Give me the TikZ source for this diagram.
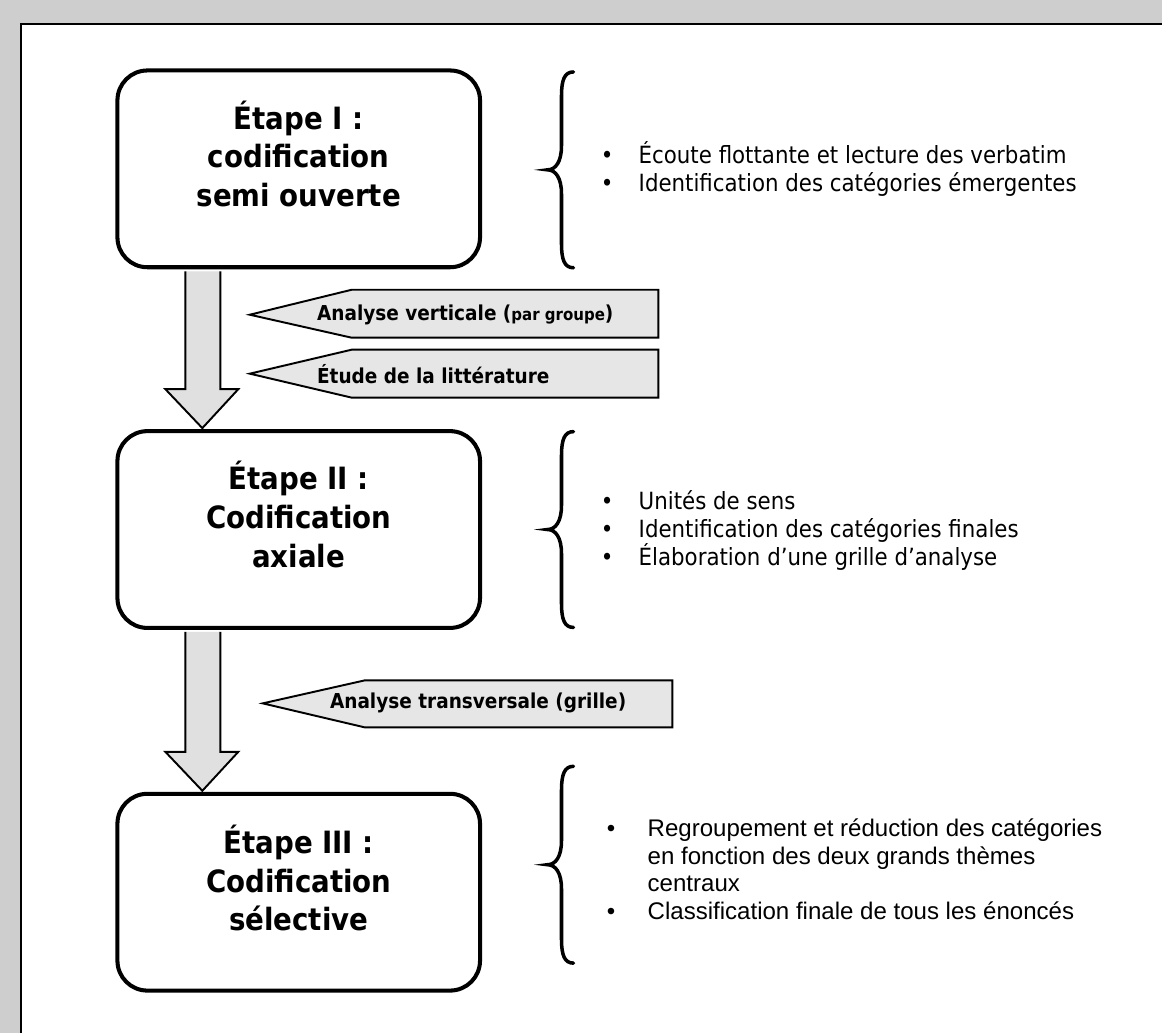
\documentclass[tikz,border=0pt]{standalone}
\usepackage{fontspec}
\setmainfont{DejaVu Sans}
\newfontfamily\itemfont{DejaVu Sans}[FakeStretch=0.9]
\newfontfamily\headfont{DejaVu Sans}[FakeStretch=0.9]
\newfontfamily\arialfont{Liberation Sans}
\usetikzlibrary{calc}

\definecolor{scanGray}{RGB}{206,206,206}
\definecolor{arrowGray}{RGB}{224,224,224}
\definecolor{tagGray}{RGB}{230,230,230}
\newcommand{\puce}{\makebox[21.6pt][l]{•}}
\newcommand{\pucea}{\makebox[23.3pt][l]{•}}

\begin{document}
\begin{tikzpicture}[x=0.02cm, y=-0.02cm,
        stage/.style={rectangle, draw=black, line width=2.3pt, rounded corners=0.6cm, fill=white, minimum width=7.26cm, minimum height=3.94cm},
        stagetext/.style={align=center, inner sep=0pt, font=\headfont\fontsize{17.5pt}{22pt}\selectfont\bfseries},
        tagbox/.style={draw=black, line width=1.1pt, fill=tagGray, line join=miter},
        tagtext/.style={anchor=west, inner sep=0pt, font=\headfont\fontsize{11.7pt}{13pt}\selectfont\bfseries},
        itemlist/.style={anchor=west, align=left, inner sep=0pt, font=\itemfont\fontsize{13.5pt}{15.9pt}\selectfont},
        flowarrow/.style={draw=black, line width=1.1pt, fill=arrowGray, line join=miter},
        curly/.style={line width=2pt, line cap=round}
    ]
        % page scan and frame
        \fill[scanGray] (0,0) rectangle (1163,1034);
        \fill[white] (21,24) rectangle (1163,1034);
        \draw[line width=1.2pt] (21,1034) -- (21,24) -- (1163,24);
        \useasboundingbox (0,0) rectangle (1163,1034);

        % stages
        \node[stage] (stage1) at (299,169) {};
        \node[stage] (stage2) at (299,530) {};
        \node[stage] (stage3) at (299,893) {};
        \node[stagetext] (title1) at ([yshift=0.3cm]stage1.center) {Étape I :\\codification\\semi ouverte};
        \node[stagetext] (title2) at ([yshift=0.3cm]stage2.center) {Étape II :\\Codification\\axiale};
        \node[stagetext] (title3) at ([yshift=0.28cm]stage3.center) {Étape III :\\Codification\\sélective};

        % block arrows between stages
        \foreach \a/\b in {stage1/stage2, stage2/stage3}
            \path[flowarrow] ($(\a.south west)+(70,2)$) -- ($(\b.north west)+(70,-40)$) -- ($(\b.north west)+(50,-40)$) -- ($(\b.north west)+(87,-1)$) -- ($(\b.north west)+(123,-40)$) -- ($(\b.north west)+(105,-40)$) -- ($(\a.south west)+(105,2)$);

        % analysis tags
        \path[tagbox] (250,315) -- (352,290) -- (659,290) -- (659,338) -- (352,338) -- cycle;
        \node[tagtext] (tagvert) at (317,315) {Analyse verticale ({\fontsize{9.5pt}{11pt}\selectfont par groupe})};
        \path[tagbox] (250,374) -- (352,350) -- (659,350) -- (659,398) -- (352,398) -- cycle;
        \node[tagtext] (taglit) at (317,374) {Étude de la littérature};
        \path[tagbox] (263,704) -- (365,681) -- (673,681) -- (673,728) -- (365,728) -- cycle;
        \node[tagtext] (tagtrans) at (330,704) {Analyse transversale (grille)};

        % braces
        \foreach \ya/\yb in {72/268, 432/628, 767/964} {
            \pgfmathsetmacro\ym{(\ya+\yb)/2}
            \draw[curly] (574,\ya) .. controls (565,\ya) and (562,\ya+8) .. (562,\ya+24) -- (562,\ym-24) .. controls (562,\ym-8) and (556,\ym) .. (548,\ym) .. controls (556,\ym) and (562,\ym+8) .. (562,\ym+24) -- (562,\yb-24) .. controls (562,\yb-8) and (565,\yb) .. (574,\yb);
        }

        % item lists
        \node[itemlist] (list1) at (601,169) {\puce Écoute flottante et lecture des verbatim\\\puce Identification des catégories émergentes};
        \node[itemlist] (list2) at (601,531) {\puce Unités de sens\\\puce Identification des catégories finales\\\puce Élaboration d’une grille d’analyse};
        \node[itemlist, font=\arialfont\fontsize{13.7pt}{15.8pt}\selectfont] (list3) at (607,870) {\pucea Regroupement et réduction des catégories\\\hspace*{23.3pt}en fonction des deux grands thèmes\\\hspace*{23.3pt}centraux\\\pucea Classification finale de tous les énoncés};
    \end{tikzpicture}
\end{document}
